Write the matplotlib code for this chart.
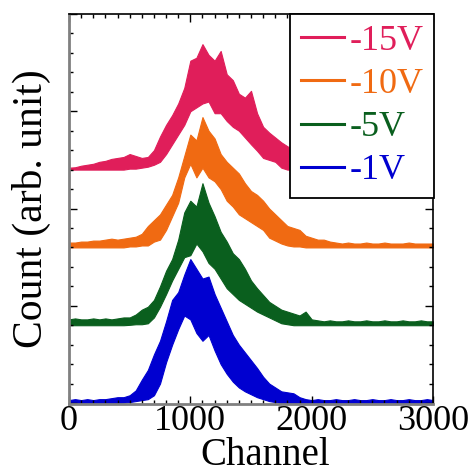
import numpy as np
import matplotlib.pyplot as plt
from matplotlib.lines import Line2D
from matplotlib.ticker import MultipleLocator

plt.rcParams['font.family'] = ['Liberation Serif', 'DejaVu Serif']

# channel bins (every 50 channels)
channel = np.arange(0, 3001, 50)

# upper / lower edge of each noisy spectrum, height above its own baseline
hi_1v = [0.15, 0.2, 0.15, 0.2, 0.15, 0.2, 0.2, 0.25, 0.3, 0.3,
         0.4, 0.65, 1.2, 1.7, 2.5, 3.2, 4.2, 5.3, 5.7, 6.6,
         7.4, 6.9, 6.4, 6.5, 5.6, 4.9, 4.2, 3.5, 3.0, 2.6,
         2.2, 1.8, 1.35, 1.0, 0.8, 0.6, 0.55, 0.5, 0.3, 0.2,
         0.15, 0.2, 0.15, 0.15, 0.2, 0.15, 0.15, 0.2, 0.15, 0.15,
         0.2, 0.15, 0.15, 0.2, 0.15, 0.15, 0.2, 0.15, 0.15, 0.2, 0.15]
lo_1v = [0] * 9 + [
         0.02, 0.05, 0.1, 0.15, 0.2, 0.4, 1.0, 2.1, 3.0, 3.8, 4.5,
         4.3, 3.6, 3.2, 3.5, 2.7, 2.0, 1.5, 1.1, 0.8, 0.6,
         0.45, 0.3, 0.2, 0.1, 0.05] + [0] * 26

hi_5v = [0.3, 0.35, 0.3, 0.3, 0.35, 0.3, 0.35, 0.3, 0.35, 0.4,
         0.4, 0.55, 0.8, 0.95, 1.3, 2.0, 2.8, 3.4, 4.4, 5.8,
         6.4, 6.1, 7.3, 6.3, 5.6, 4.8, 4.3, 3.7, 3.4, 2.9,
         2.3, 1.9, 1.55, 1.2, 1.0, 0.8, 0.7, 0.6, 0.5, 0.7,
         0.3, 0.25, 0.2, 0.25, 0.2, 0.2, 0.25, 0.2, 0.2, 0.25,
         0.2, 0.2, 0.25, 0.2, 0.2, 0.25, 0.2, 0.2, 0.25, 0.2, 0.2]
lo_5v = [0] * 10 + [
         0.02, 0.05, 0.05, 0.1, 0.4, 0.95, 1.6, 2.3, 2.9, 3.5,
         3.6, 4.2, 3.8, 3.2, 2.9, 2.4, 1.9, 1.6, 1.3, 1.1,
         0.9, 0.7, 0.55, 0.4, 0.25, 0.1, 0.05] + [0] * 24

hi_10v = [0.25, 0.25, 0.3, 0.3, 0.35, 0.35, 0.4, 0.45, 0.4, 0.45,
          0.5, 0.55, 0.7, 1.1, 1.4, 1.7, 2.2, 2.7, 3.6, 4.7,
          5.8, 5.5, 6.7, 6.0, 5.6, 4.8, 4.4, 4.1, 3.8, 3.3,
          2.9, 2.7, 2.4, 2.0, 1.7, 1.4, 1.1, 1.0, 0.9, 0.6,
          0.5, 0.4, 0.4, 0.3, 0.25, 0.2, 0.25, 0.2, 0.2, 0.25,
          0.2, 0.2, 0.25, 0.2, 0.2, 0.2, 0.25, 0.2, 0.2, 0.2, 0.2]
lo_10v = [0] * 10 + [
          0.05, 0.05, 0.1, 0.1, 0.3, 0.4, 0.9, 1.6, 2.3, 3.6,
          4.3, 3.6, 4.1, 3.6, 3.4, 3.0, 2.4, 2.1, 1.7, 1.5,
          1.3, 1.1, 0.9, 0.5, 0.35, 0.2, 0.1, 0.05, 0.05] + [0] * 22

hi_15v = [0.1, 0.12, 0.2, 0.25, 0.3, 0.4, 0.45, 0.55, 0.6, 0.65,
          0.8, 0.7, 0.6, 0.65, 1.0, 1.7, 2.3, 2.8, 3.4, 4.2,
          5.6, 5.75, 6.45, 5.9, 5.6, 6.1, 4.9, 4.6, 3.9, 3.7,
          4.05, 2.9, 2.2, 1.9, 1.65, 1.4, 1.2, 1.0, 0.9, 0.8,
          0.7, 0.6, 0.5, 0.45, 0.4, 0.35, 0.3, 0.3, 0.25, 0.25,
          0.2, 0.2, 0.2, 0.2, 0.2, 0.2, 0.2, 0.2, 0.2, 0.2, 0.2]
lo_15v = [0] * 10 + [
          0.05, 0.05, 0.1, 0.15, 0.25, 0.4, 0.8, 1.3, 1.8, 2.3,
          3.0, 3.2, 3.4, 3.5, 2.9, 2.9, 2.5, 2.2, 2.0, 1.65,
          1.3, 0.97, 0.6, 0.5, 0.4, 0.1] + [0] * 25

labels = ["-15V", "-10V", "-5V", "-1V"]
offsets = [12, 8, 4, 0]
colors = ["#E01E5A", "#F06A12", "#0A5F1E", "#0000D0"]
upper = [hi_15v, hi_10v, hi_5v, hi_1v]
lower = [lo_15v, lo_10v, lo_5v, lo_1v]

fig = plt.figure(figsize=(4.72, 4.74), dpi=100)
ax = fig.add_axes([69 / 472, 70 / 474, 364 / 472, 390 / 474])

# each spectrum is drawn as the band between its lower and upper edge
for hi, lo, off, c in zip(upper, lower, offsets, colors):
    ax.fill_between(channel, off + np.array(lo), off + np.array(hi),
                    color=c, lw=0.8, edgecolor=c)

ax.set_xlim(0, 3000)
ax.set_ylim(-0.05, 20)
ax.xaxis.set_major_locator(MultipleLocator(1000))
ax.xaxis.set_minor_locator(MultipleLocator(100))
ax.yaxis.set_major_locator(MultipleLocator(5))
ax.yaxis.set_minor_locator(MultipleLocator(1))
ax.tick_params(which="both", direction="in", top=True, right=True,
               width=1.0, labelsize=26, pad=1, labelleft=False)
ax.tick_params(which="major", length=5.8)
ax.tick_params(which="minor", length=2.9)

for side in ["left", "bottom"]:
    ax.spines[side].set_color("#808080")
    ax.spines[side].set_linewidth(2.0)
for side in ["top", "right"]:
    ax.spines[side].set_color("black")
    ax.spines[side].set_linewidth(1.2)

ax.set_xlabel("Channel", fontsize=28, va="baseline")
ax.xaxis.set_label_coords(0.54, -61 / 390)
ax.set_ylabel("Count (arb. unit)", fontsize=30, va="baseline")
ax.yaxis.set_label_coords(-27 / 364, 0.5)

handles = [Line2D([0], [0], color=c, lw=2.2) for c in colors]
leg = ax.legend(handles, labels, loc="upper right", bbox_to_anchor=(1.003, 1.0),
                borderaxespad=0, fontsize=26, handlelength=1.2,
                handletextpad=0.15, labelspacing=0.27, borderpad=0.3,
                fancybox=False, framealpha=1, edgecolor="black")
leg.get_frame().set_linewidth(1.3)
for t, c in zip(leg.get_texts(), colors):
    t.set_color(c)

fig.savefig("out.png", dpi=100)
